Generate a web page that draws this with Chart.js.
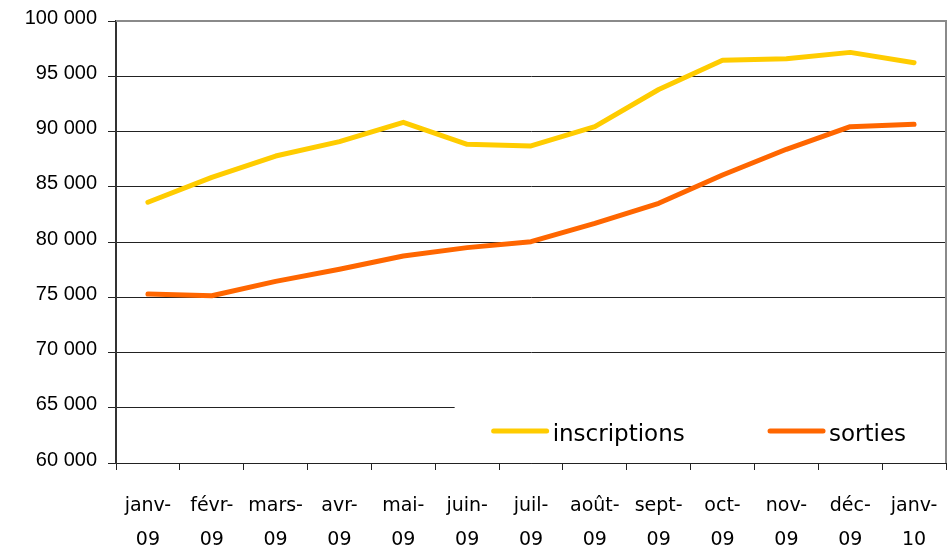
<!DOCTYPE html>
<html>
<head>
<meta charset="utf-8">
<script src="https://cdn.jsdelivr.net/npm/chart.js@4/dist/chart.umd.min.js"></script>
<style>
  html, body { margin: 0; padding: 0; background: #fff; }
  #wrap { width: 949px; height: 550px; }
</style>
</head>
<body>
<div id="wrap"><canvas id="c" width="949" height="550"></canvas></div>
<script>
const categories = [
  ['janv-', '09'], ['févr-', '09'], ['mars-', '09'], ['avr-', '09'],
  ['mai-', '09'], ['juin-', '09'], ['juil-', '09'], ['août-', '09'],
  ['sept-', '09'], ['oct-', '09'], ['nov-', '09'], ['déc-', '09'], ['janv-', '10']
];
const inscriptions = [83600, 85850, 87780, 89080, 90830, 88840, 88690, 90440, 93800, 96440, 96590, 97160, 96230];
const sorties = [75290, 75140, 76440, 77530, 78730, 79490, 80030, 81690, 83500, 86060, 88390, 90440, 90650];
const seriesNames = ['inscriptions', 'sorties'];
const seriesColors = ['#FFCC00', '#FF6600'];
const yMin = 60000, yMax = 100000, yStep = 5000;

function fmt(v) {
  return String(v).replace(/\B(?=(\d{3})+(?!\d))/g, ' ');
}

const overlay = {
  id: 'overlay',
  beforeDatasetsDraw(chart) {
    const { ctx, chartArea: a } = chart;
    const w = a.right - a.left;
    const boxLeft = a.left + w * 0.408;
    ctx.save();
    ctx.fillStyle = '#ffffff';
    ctx.fillRect(boxLeft, a.bottom - 62, a.right - boxLeft + 2, 61);
    ctx.restore();
  },
  afterDraw(chart) {
    const { ctx, chartArea: a } = chart;
    const w = a.right - a.left;
    ctx.save();
    // top and right frame
    ctx.strokeStyle = '#8a8a8a';
    ctx.lineWidth = 2;
    ctx.beginPath();
    ctx.moveTo(a.left, a.top);
    ctx.lineTo(a.right, a.top);
    ctx.lineTo(a.right, a.bottom);
    ctx.stroke();
    // legend
    const itemX = [a.left + w * 0.455, a.left + w * 0.788];
    const ly = a.bottom - 32;
    ctx.font = '23px "DejaVu Sans"';
    ctx.textBaseline = 'alphabetic';
    ctx.textAlign = 'left';
    chart.data.datasets.forEach((ds, i) => {
      const x0 = itemX[i];
      ctx.strokeStyle = ds.borderColor;
      ctx.lineWidth = 5;
      ctx.lineCap = 'round';
      ctx.beginPath();
      ctx.moveTo(x0, ly);
      ctx.lineTo(x0 + 53, ly);
      ctx.stroke();
      ctx.fillStyle = '#000';
      ctx.fillText(ds.label, x0 + 59, ly + 10);
    });
    ctx.restore();
  }
};

new Chart(document.getElementById('c'), {
  type: 'line',
  data: {
    labels: categories,
    datasets: [
      { label: seriesNames[0], data: inscriptions, borderColor: seriesColors[0], backgroundColor: seriesColors[0] },
      { label: seriesNames[1], data: sorties, borderColor: seriesColors[1], backgroundColor: seriesColors[1] }
    ]
  },
  options: {
    responsive: false,
    animation: false,
    devicePixelRatio: 1,
    layout: { padding: { top: 21, right: 3, left: 0, bottom: 0 } },
    elements: {
      line: { borderWidth: 5, tension: 0, borderCapStyle: 'round', borderJoinStyle: 'round' },
      point: { radius: 0, hoverRadius: 0 }
    },
    plugins: {
      legend: { display: false },
      tooltip: { enabled: false }
    },
    scales: {
      x: {
        type: 'category',
        offset: true,
        grid: {
          offset: true,
          drawOnChartArea: false,
          drawTicks: true,
          tickLength: 7,
          color: '#222',
          lineWidth: 1
        },
        border: { display: true, color: '#222', width: 1 },
        ticks: {
          color: '#000',
          padding: 20,
          maxRotation: 0,
          autoSkip: false,
          font: { family: '"DejaVu Sans"', size: 19, lineHeight: 1.74 }
        },
        afterFit(scale) {
          scale.height = 87;
          scale.paddingLeft = 0;
          scale.paddingRight = 0;
        }
      },
      y: {
        min: yMin,
        max: yMax,
        grid: {
          color: '#222',
          lineWidth: 1,
          drawTicks: true,
          tickLength: 8
        },
        border: { display: true, color: '#333', width: 2 },
        ticks: {
          stepSize: yStep,
          color: '#000',
          padding: 11,
          labelOffset: -3,
          font: { family: '"Liberation Sans"', size: 20 },
          callback: (v) => fmt(v)
        },
        afterFit(scale) {
          scale.width = 116;
          scale.paddingTop = 0;
          scale.paddingBottom = 0;
        }
      }
    }
  },
  plugins: [overlay]
});
</script>
</body>
</html>
